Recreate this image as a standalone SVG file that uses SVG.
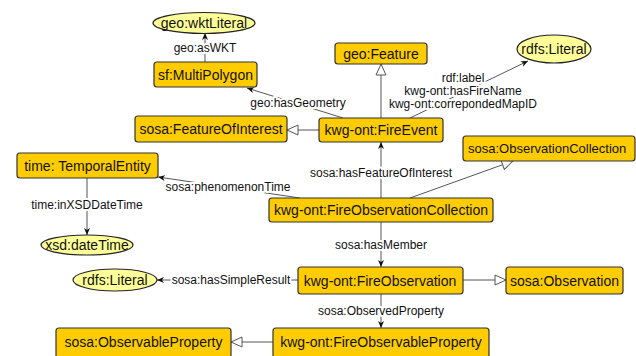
<svg xmlns="http://www.w3.org/2000/svg" width="636" height="356" viewBox="0 0 636 356">
<style>
.n rect{fill:#FFCC00;stroke:#333;stroke-width:1.2}
.n ellipse{fill:#FFFF99;stroke:#222;stroke-width:1.2}
.n text{font-family:"Liberation Sans",Arial,sans-serif;font-size:14px;fill:#111;text-anchor:middle;dominant-baseline:central}
.e line,.e polyline{stroke:#555;stroke-width:1;fill:none}
.e .f{marker-end:url(#af)}
.e .h{marker-end:url(#ah)}
.l{font-family:"Liberation Sans",Arial,sans-serif;font-size:12px;fill:#111;text-anchor:middle;dominant-baseline:central;stroke:#fff;stroke-width:4;paint-order:stroke;stroke-linejoin:round}
</style>
<defs>
<marker id="af" markerWidth="8" markerHeight="8" refX="7" refY="4" orient="auto" markerUnits="userSpaceOnUse">
<path d="M0,1 L7,4 L0,7 L2,4 Z" fill="#111"/>
</marker>
<marker id="ah" markerWidth="14" markerHeight="12" refX="12" refY="6" orient="auto" markerUnits="userSpaceOnUse">
<path d="M1,1 L12,6 L1,11 Z" fill="#fff" stroke="#555" stroke-width="1"/>
</marker>
</defs>
<rect width="636" height="356" fill="#fff"/>
<g id="edges" class="e">
<line class="f" x1="205" y1="62" x2="205" y2="33"/>
<line class="f" x1="343" y1="118" x2="247" y2="88"/>
<line class="h" x1="319" y1="130" x2="287" y2="130"/>
<line class="h" x1="381" y1="118" x2="381" y2="64"/>
<line class="f" x1="410" y1="118" x2="528" y2="61"/>
<line class="f" x1="381" y1="198" x2="381" y2="142"/>
<line class="h" x1="410" y1="198" x2="513" y2="161"/>
<line class="f" x1="300" y1="198" x2="158" y2="177"/>
<line class="f" x1="87" y1="178" x2="87" y2="235"/>
<line class="f" x1="381" y1="222" x2="381" y2="267"/>
<line class="f" x1="298" y1="280" x2="157" y2="280"/>
<line class="h" x1="463" y1="280" x2="506" y2="280"/>
<line class="f" x1="381" y1="294" x2="381" y2="328"/>
<line class="h" x1="273" y1="342" x2="231" y2="342"/>
<text class="l" x="205" y="48">geo:asWKT</text>
<text class="l" x="298" y="103">geo:hasGeometry</text>
<text class="l" x="463" y="78">rdf:label</text>
<text class="l" x="463" y="91">kwg-ont:hasFireName</text>
<text class="l" x="463" y="104">kwg-ont:correpondedMapID</text>
<text class="l" x="381" y="173">sosa:hasFeatureOfInterest</text>
<text class="l" x="228" y="187">sosa:phenomenonTime</text>
<text class="l" x="87" y="205">time:inXSDDateTime</text>
<text class="l" x="381" y="245">sosa:hasMember</text>
<text class="l" x="231" y="280">sosa:hasSimpleResult</text>
<text class="l" x="381" y="311">sosa:ObservedProperty</text>
</g>
<g id="wktLiteral" class="n"><ellipse cx="204" cy="23" rx="51" ry="10.5"/><text x="204" y="23">geo:wktLiteral</text></g>
<g id="MultiPolygon" class="n"><rect x="154" y="62" width="103" height="25" rx="3"/><text x="205.5" y="74.5">sf:MultiPolygon</text></g>
<g id="FeatureOfInterest" class="n"><rect x="135" y="116" width="152" height="26" rx="3"/><text x="211" y="129">sosa:FeatureOfInterest</text></g>
<g id="TemporalEntity" class="n"><rect x="17" y="153" width="141" height="25" rx="3"/><text x="87.5" y="165.5">time: TemporalEntity</text></g>
<g id="geoFeature" class="n"><rect x="335" y="43" width="92" height="21" rx="3"/><text x="381" y="53.5">geo:Feature</text></g>
<g id="rdfsLiteralTop" class="n"><ellipse cx="554" cy="49" rx="37" ry="14"/><text x="554" y="49">rdfs:Literal</text></g>
<g id="FireEvent" class="n"><rect x="319" y="118" width="124" height="24" rx="3"/><text x="381" y="130">kwg-ont:FireEvent</text></g>
<g id="ObservationCollection" class="n"><rect x="463" y="136" width="172" height="25" rx="3"/><text x="468" y="148.5" style="text-anchor:start;font-size:13px">sosa:ObservationCollection</text></g>
<g id="FireObservationCollection" class="n"><rect x="269" y="198" width="224" height="24" rx="3"/><text x="381" y="210">kwg-ont:FireObservationCollection</text></g>
<g id="dateTime" class="n"><ellipse cx="87" cy="245" rx="46" ry="10"/><text x="87" y="245">xsd:dateTime</text></g>
<g id="rdfsLiteralBottom" class="n"><ellipse cx="115" cy="280" rx="42" ry="11"/><text x="115" y="280">rdfs:Literal</text></g>
<g id="FireObservation" class="n"><rect x="298" y="267" width="165" height="27" rx="3"/><text x="380" y="280.5">kwg-ont:FireObservation</text></g>
<g id="Observation" class="n"><rect x="506" y="267" width="117" height="27" rx="3"/><text x="564.5" y="280.5">sosa:Observation</text></g>
<g id="ObservableProperty" class="n"><rect x="56" y="328" width="175" height="30" rx="3"/><text x="143.5" y="342">sosa:ObservableProperty</text></g>
<g id="FireObservableProperty" class="n"><rect x="273" y="328" width="216" height="30" rx="3"/><text x="381" y="342">kwg-ont:FireObservableProperty</text></g>
</svg>
